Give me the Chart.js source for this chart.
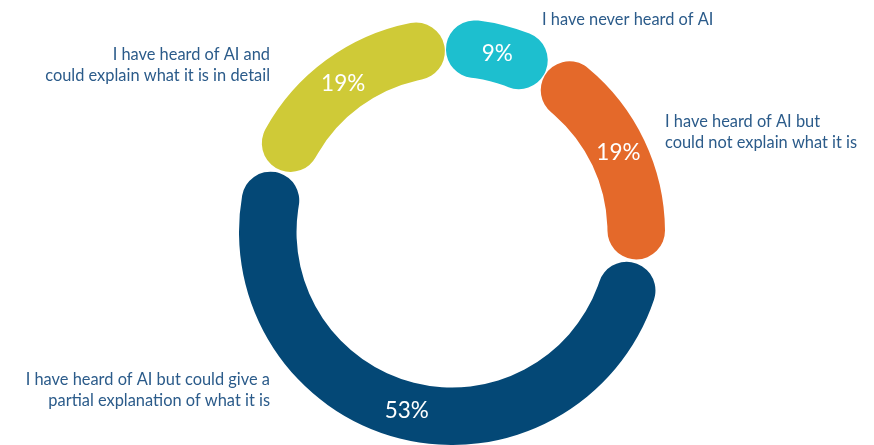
<!DOCTYPE html>
<html>
<head>
<meta charset="utf-8">
<script src="https://cdn.jsdelivr.net/npm/chart.js@4"></script>
<style>
  html, body { margin: 0; padding: 0; background: #ffffff; }
  #wrap { width: 874px; height: 445px; position: relative; }
</style>
</head>
<body>
<div id="wrap"><canvas id="donut"></canvas></div>
<script>
// data, clockwise from the top
const categories = [
  ["I have never heard of AI"],
  ["I have heard of AI but", "could not explain what it is"],
  ["I have heard of AI but could give a", "partial explanation of what it is"],
  ["I have heard of AI and", "could explain what it is in detail"]
];
const shares = [9, 19, 53, 19];
const colours = ["#1dbfcf", "#e4692a", "#044876", "#cfca37"];

// where each outside label sits relative to the ring centre, and its alignment
const labelPlace = [
  { dx: 90, dy: -212, align: "left" },
  { dx: 213, dy: -110, align: "left" },
  { dx: -182, dy: 148, align: "right" },
  { dx: -182, dy: -177, align: "right" }
];

const TEXT = "#2b5b8a";

const labelPlugin = {
  id: "labels",
  afterDatasetsDraw(chart) {
    const ctx = chart.ctx;
    const arcs = chart.getDatasetMeta(0).data;
    const cx = arcs[0].x, cy = arcs[0].y;
    ctx.save();
    // percentages on the ring
    ctx.fillStyle = "#ffffff";
    ctx.font = "22.5px Lato";
    ctx.textAlign = "center";
    ctx.textBaseline = "middle";
    arcs.forEach((a, i) => {
      const p = a.tooltipPosition();
      ctx.fillText(shares[i] + "%", p.x, p.y);
    });
    // category labels
    ctx.fillStyle = TEXT;
    ctx.font = "16.4px Lato";
    categories.forEach((lines, i) => {
      const pl = labelPlace[i];
      ctx.textAlign = pl.align;
      lines.forEach((t, k) => {
        ctx.fillText(t, cx + pl.dx, cy + pl.dy + k * 20.5);
      });
    });
    ctx.restore();
  }
};

new Chart(document.getElementById("donut"), {
  type: "doughnut",
  data: {
    labels: categories.map(c => c.join(" ")),
    datasets: [{
      data: shares,
      backgroundColor: colours,
      borderWidth: 0,
      borderRadius: 29,
      spacing: 3
    }]
  },
  options: {
    responsive: true,
    maintainAspectRatio: false,
    animation: false,
    rotation: -2,
    cutout: "72.8%",
    layout: { padding: { left: 239, right: 209, top: 19, bottom: 0 } },
    plugins: {
      legend: { display: false },
      tooltip: { enabled: false }
    }
  },
  plugins: [labelPlugin]
});
</script>
</body>
</html>
